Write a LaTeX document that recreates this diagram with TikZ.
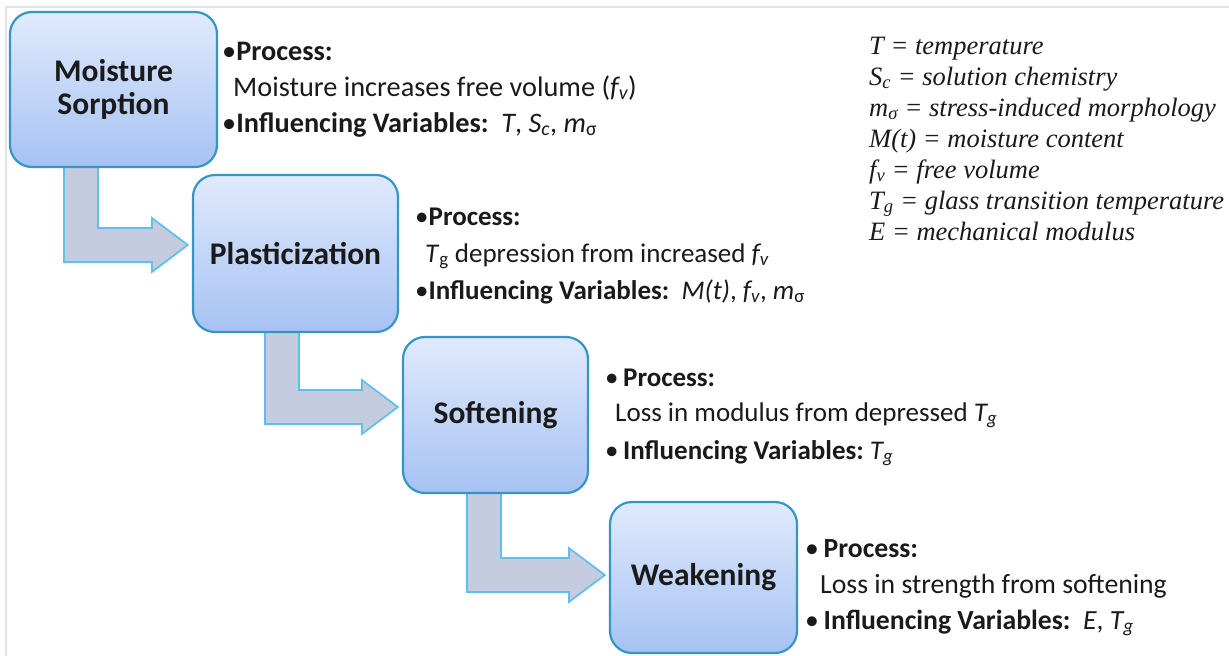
\documentclass[tikz,border=0pt]{standalone}
\usepackage{fontspec}
\setmainfont{Carlito}
\newfontfamily\legendfont{Liberation Serif}
\usetikzlibrary{calc,backgrounds}

\definecolor{boxedge}{HTML}{3596C4}
\definecolor{boxtop}{HTML}{E0EAFC}
\definecolor{boxbottom}{HTML}{A6C2F3}
\definecolor{arrowfill}{HTML}{C6CCE0}
\definecolor{arrowedge}{HTML}{5CC0E8}
\definecolor{ink}{HTML}{1A1A1A}
\definecolor{frameline}{HTML}{DCE4F0}

% bent block arrow: from the bottom of #1 down, then right into the west side of #2
% #3 = left edge of the vertical shaft, #4 = height of the tip
\newcommand{\bentarrow}[4]{%
  \draw[flowarrow] let \p1=(#1.south), \p2=(#2.west) in
    (#3,\y1+8) -- (#3,#4+17) -- (\x2-40,#4+17) -- (\x2-40,#4+27)
    -- (\x2-4,#4) -- (\x2-40,#4-27) -- (\x2-40,#4-17)
    -- (#3+34,#4-17) -- (#3+34,\y1+8) -- cycle;}

\begin{document}
\begin{tikzpicture}[x=1pt,y=-1pt,
  stage/.style={draw=boxedge, line width=2.2pt, rounded corners=22pt,
    top color=boxtop, bottom color=boxbottom, text=ink, align=center,
    inner sep=0pt, font=\fontsize{31.5}{33}\selectfont\bfseries},
  flowarrow/.style={draw=arrowedge, fill=arrowfill, line width=1.7pt, line join=miter},
  body/.style={anchor=base west, inner sep=0pt, text=ink,
    font=\fontsize{#1}{33}\selectfont},
  body/.default=27,
  legend/.style={anchor=base west, inner sep=0pt, text=ink,
    font=\legendfont\itshape\fontsize{26.5}{30}\selectfont}]

\useasboundingbox (0,0) rectangle (1229,656);

% stages
\node[stage, minimum width=207, minimum height=155] (s1) at (113.5,89.5) {Moisture\\Sorption};
\node[stage, minimum width=205, minimum height=157] (s2) at (295.5,253.5) {Plasticization};
\node[stage, minimum width=185, minimum height=156] (s3) at (495.5,415) {Softening};
\node[stage, minimum width=187, minimum height=151] (s4) at (703.5,577.5) {Weakening};

% page, frame and arrows between stages, beneath the boxes
\begin{pgfonlayer}{background}
\fill[white] (0,0) rectangle (1229,656);
\draw[frameline, line width=1.5pt] (6,656) -- (6,7) -- (1229,7);
\bentarrow{s1}{s2}{64}{245}
\bentarrow{s2}{s3}{265}{407}
\bentarrow{s3}{s4}{467}{575}
\end{pgfonlayer}

% stage descriptions
\node[body=28.3] (p1a) at (222,60) {•\textbf{Process:}};
\node[body=28.3] (p1b) at (233,96) {Moisture increases free volume (\textit{f\textsubscript{v}})};
\node[body=28.3] (p1c) at (222,132) {•\textbf{Influencing Variables:}\ \ \textit{T},\ \textit{S\textsubscript{c}}, \textit{m}\textsubscript{σ}};

\node[body] (p2a) at (415,225) {•\textbf{Process:}};
\node[body] (p2b) at (425,262) {\textit{T}\textsubscript{g} depression from increased \textit{f\textsubscript{v}}};
\node[body] (p2c) at (415,299) {•\textbf{Influencing Variables:}\ \ \textit{M(t)}, \textit{f\textsubscript{v}}, \textit{m}\textsubscript{σ}};

\node[body] (p3a) at (605,386) {•\,\textbf{Process:}};
\node[body] (p3b) at (615,421) {Loss in modulus from depressed \textit{T\textsubscript{g}}};
\node[body] (p3c) at (605,459) {•\,\textbf{Influencing Variables:}\ \textit{T\textsubscript{g}}};

\node[body=27.7] (p4a) at (805,557) {•\,\textbf{Process:}};
\node[body=27.7] (p4b) at (820,593) {Loss in strength from softening};
\node[body=27.7] (p4c) at (805,629) {•\,\textbf{Influencing Variables:}\ \ \textit{E}, \textit{T\textsubscript{g}}};

% symbol legend
\node[legend] (l1) at (869,54) {T = temperature};
\node[legend] (l2) at (869,85) {S\textsubscript{c} = solution chemistry};
\node[legend] (l3) at (869,116) {m\textsubscript{σ} = stress-induced morphology};
\node[legend] (l4) at (869,147) {M(t) = moisture content};
\node[legend] (l5) at (869,178) {f\textsubscript{v} = free volume};
\node[legend] (l6) at (869,209) {T\textsubscript{g} = glass transition temperature};
\node[legend] (l7) at (869,240) {E = mechanical modulus};
\end{tikzpicture}
\end{document}
